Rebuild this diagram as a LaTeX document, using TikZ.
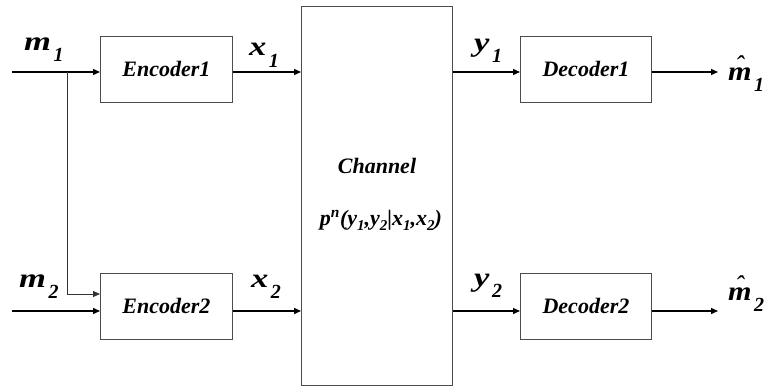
\documentclass[tikz,border=0pt]{standalone}
\usepackage{fontspec}
\usepackage{graphicx}
\setmainfont{Liberation Serif}
\usetikzlibrary{arrows.meta}
\newcommand\W[1]{\scalebox{1.28}[1]{#1}}
\newcommand\bi[1]{\textbf{\textit{#1}}}
\newcommand\lab[2]{\fontsize{27}{27}\selectfont#1\hspace{2.5pt}\raisebox{-0.42em}{\fontsize{20}{20}\selectfont\bi{#2}}}
\newcommand\hatm{\ooalign{\scalebox{1.12}[1]{\bi{m}}\cr\hidewidth\raisebox{0.22em}{\textit{\char"02C6}}\hidewidth\cr}}
\newcommand\sbx[1]{\raisebox{-0.22em}{\fontsize{15}{15}\selectfont #1}}
\begin{document}
\begin{tikzpicture}[x=1pt,y=-1pt,
  blk/.style={draw=black!70,line width=0.9pt,anchor=north west,inner sep=0pt,
    font=\fontsize{22}{22}\selectfont\bfseries\itshape},
  arr/.style={line width=1.4pt,-{Triangle[length=7pt,width=6pt]}},
  thin/.style={line width=0.8pt,draw=black!80,-{Triangle[length=7pt,width=6pt]}},
  txt/.style={font=\fontsize{22}{22}\selectfont\bfseries\itshape},
  lbl/.style={anchor=base west,inner sep=0pt}]
\useasboundingbox (0,0) rectangle (769,388);
\node[blk,minimum width=132pt,minimum height=66pt] (enc1) at (100,36) {Encoder1};
\node[blk,minimum width=132pt,minimum height=66pt] (enc2) at (100,273) {Encoder2};
\node[blk,minimum width=151pt,minimum height=379pt] (ch) at (301,6) {};
\node[blk,minimum width=131pt,minimum height=66pt] (dec1) at (520,36) {Decoder1};
\node[blk,minimum width=131pt,minimum height=66pt] (dec2) at (520,273) {Decoder2};
\node[txt] (chn) at (377,166) {Channel};
\node[txt] (chp) at (381,220)
  {p\textsuperscript{n}(y\sbx{1},y\sbx{2}|x\sbx{1},x\sbx{2})};
\coordinate (in1) at (12,72);
\coordinate (in2) at (12,311);
\coordinate (br) at (67,72);
\coordinate (br2) at (67,294);
\coordinate (out1) at (718,72);
\coordinate (out2) at (718,311);
\draw[arr] (in1) -- (in1 -| enc1.west);
\draw[arr] (in2) -- (in2 -| enc2.west);
\draw[thin] (br) -- (br2) -- (br2 -| enc2.west);
\draw[arr] (in1 -| enc1.east) -- (in1 -| ch.west);
\draw[arr] (in2 -| enc2.east) -- (in2 -| ch.west);
\draw[arr] (in1 -| ch.east) -- (in1 -| dec1.west);
\draw[arr] (in2 -| ch.east) -- (in2 -| dec2.west);
\draw[arr] (in1 -| dec1.east) -- (out1);
\draw[arr] (in2 -| dec2.east) -- (out2);
\node[lbl] (m1) at (24,50) {\lab{\W{\bi{m}}}{1}};
\node[lbl] (m2) at (19,287) {\lab{\W{\bi{m}}}{2}};
\node[lbl] (x1) at (249,56) {\lab{\W{\bi{x}}}{1}};
\node[lbl] (x2) at (251,287) {\lab{\W{\bi{x}}}{2}};
\node[lbl] (y1) at (474,51) {\lab{\W{\bi{y}}}{1}};
\node[lbl] (y2) at (474,286) {\lab{\W{\bi{y}}}{2}};
\node[lbl] (mh1) at (728,80) {\lab{\hatm}{1}};
\node[lbl] (mh2) at (728,300) {\lab{\hatm}{2}};
\end{tikzpicture}
\end{document}
